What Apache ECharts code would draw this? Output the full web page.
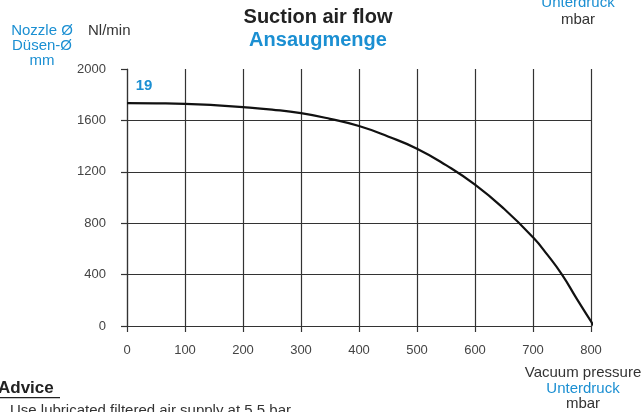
<!DOCTYPE html>
<html>
<head>
<meta charset="utf-8">
<script src="https://cdn.jsdelivr.net/npm/echarts@6/dist/echarts.min.js"></script>
<style>
  html, body { margin: 0; padding: 0; background: #fff; }
  #chart { width: 642px; height: 412px; }
</style>
</head>
<body>
<div id="chart"></div>
<script>
// vacuum pressure (mbar) and suction air flow (Nl/min) for nozzle 19
const pressure = [0, 50, 100, 150, 200, 250, 300, 350, 400, 450, 500, 550, 600, 650, 700, 725, 750, 775, 805];
const airFlow = [1735, 1733, 1729, 1719, 1704, 1684, 1656, 1612, 1556, 1475, 1380, 1252, 1100, 912, 690, 553, 400, 215, 0];
const nozzleLabel = "19";
const xTicks = [0, 800, 100];   // min, max, step
const yTicks = [0, 2000, 400];

const blue = "#1b8fd2";
const grey = "#333";
const font = "Liberation Sans";

const chart = echarts.init(document.getElementById("chart"));

// small helper for plain text blocks
function txt(x, y, text, opts) {
  return {
    type: "text",
    x: x,
    y: y,
    style: Object.assign(
      {
        text: text,
        fill: grey,
        font: "14px " + font,
        textAlign: "center",
        textVerticalAlign: "middle",
      },
      opts || {}
    ),
  };
}

const option = {
  backgroundColor: "#fff",
  animation: false,
  grid: { left: 127, right: 51, top: 69, bottom: 86 },
  xAxis: {
    type: "value",
    min: xTicks[0],
    max: xTicks[1],
    interval: xTicks[2],
    axisLine: { show: true, lineStyle: { color: grey, width: 1.2 } },
    axisTick: { show: true, length: 6, lineStyle: { color: grey, width: 1.2 } },
    axisLabel: { margin: 18, color: "#444", fontFamily: font, fontSize: 13, formatter: (v) => String(v) },
    splitLine: { show: true, lineStyle: { color: grey, width: 1.2 } },
  },
  yAxis: {
    type: "value",
    min: yTicks[0],
    max: yTicks[1],
    interval: yTicks[2],
    axisLine: { show: true, lineStyle: { color: grey, width: 1.2 } },
    axisTick: { show: true, length: 6, lineStyle: { color: grey, width: 1.2 } },
    axisLabel: { margin: 21, color: "#444", fontFamily: font, fontSize: 13, formatter: (v) => String(v) },
    splitLine: { show: true, showMaxLine: false, lineStyle: { color: grey, width: 1.2 } },
  },
  series: [
    {
      type: "line",
      data: pressure.map((p, i) => [p, airFlow[i]]),
      smooth: 0.5,
      showSymbol: false,
      lineStyle: { color: "#111", width: 2.2 },
    },
  ],
  graphic: [
    txt(318, 17, "Suction air flow", { fill: "#222", font: "bold 20px " + font }),
    txt(318, 40, "Ansaugmenge", { fill: blue, font: "bold 20px " + font }),
    txt(42, 31, "Nozzle Ø", { fill: blue, font: "15px " + font }),
    txt(42, 46, "Düsen-Ø", { fill: blue, font: "15px " + font }),
    txt(42, 61, "mm", { fill: blue, font: "15px " + font }),
    txt(88, 31, "Nl/min", { font: "15px " + font, textAlign: "left" }),
    txt(144, 86, nozzleLabel, { fill: blue, font: "bold 15px " + font }),
    txt(578, 3, "Unterdruck", { fill: blue, font: "15px " + font }),
    txt(578, 20, "mbar", { font: "15px " + font }),
    txt(583, 373, "Vacuum pressure", { font: "15px " + font }),
    txt(583, 389, "Unterdruck", { fill: blue, font: "15px " + font }),
    txt(583, 404, "mbar", { font: "15px " + font }),
    txt(-2, 388, "Advice", { fill: "#222", font: "bold 17px " + font, textAlign: "left" }),
    {
      type: "rect",
      shape: { x: 0, y: 397, width: 60, height: 1.2 },
      style: { fill: "#222" },
    },
    txt(10, 411, "Use lubricated filtered air supply at 5.5 bar", {
      font: "15px " + font,
      textAlign: "left",
    }),
  ],
};

chart.setOption(option);
</script>
</body>
</html>
